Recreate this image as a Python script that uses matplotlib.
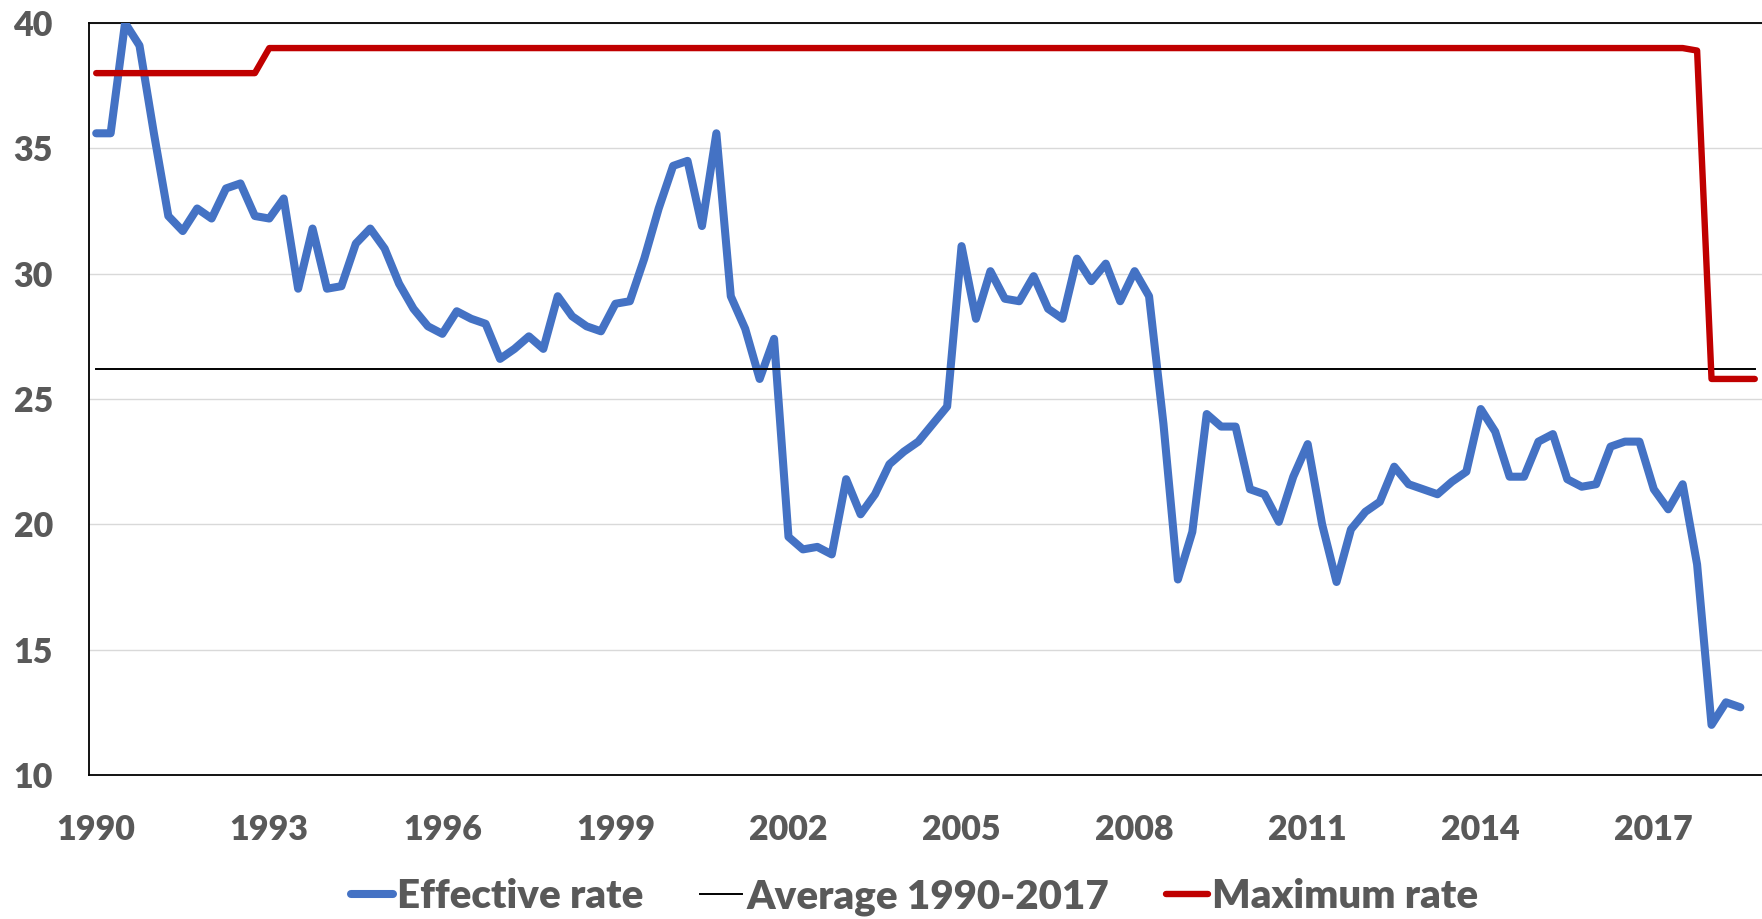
import matplotlib.pyplot as plt

# quarterly categories, 1990Q1 .. 2018Q4
QUARTERS = [f"{year}Q{q}" for year in range(1990, 2019) for q in range(1, 5)]

EFFECTIVE_RATE = [
    35.6, 35.6, 40.0, 39.1, 35.6, 32.3, 31.7, 32.6, 32.2, 33.4, 33.6, 32.3,
    32.2, 33.0, 29.4, 31.8, 29.4, 29.5, 31.2, 31.8, 31.0, 29.6, 28.6, 27.9,
    27.6, 28.5, 28.2, 28.0, 26.6, 27.0, 27.5, 27.0, 29.1, 28.3, 27.9, 27.7,
    28.8, 28.9, 30.6, 32.6, 34.3, 34.5, 31.9, 35.6, 29.1, 27.8, 25.8, 27.4,
    19.5, 19.0, 19.1, 18.8, 21.8, 20.4, 21.2, 22.4, 22.9, 23.3, 24.0, 24.7,
    31.1, 28.2, 30.1, 29.0, 28.9, 29.9, 28.6, 28.2, 30.6, 29.7, 30.4, 28.9,
    30.1, 29.1, 24.0, 17.8, 19.7, 24.4, 23.9, 23.9, 21.4, 21.2, 20.1, 21.9,
    23.2, 20.0, 17.7, 19.8, 20.5, 20.9, 22.3, 21.6, 21.4, 21.2, 21.7, 22.1,
    24.6, 23.7, 21.9, 21.9, 23.3, 23.6, 21.8, 21.5, 21.6, 23.1, 23.3, 23.3,
    21.4, 20.6, 21.6, 18.4, 12.0, 12.9, 12.7,
]
AVERAGE_RATE = 26.2
MAXIMUM_RATE = [38.0] * 12 + [39.0] * 99 + [38.9] + [25.8] * 4

YEAR_TICKS = ["1990", "1993", "1996", "1999", "2002", "2005", "2008", "2011", "2014", "2017"]
Y_TICKS = [10, 15, 20, 25, 30, 35, 40]

BLUE = "#4472C4"
RED = "#C00000"
GREY_TEXT = "#595959"

plt.rcParams["font.family"] = ["Lato", "DejaVu Sans"]
plt.rcParams["font.weight"] = "heavy"

fig = plt.figure(figsize=(17.62, 9.19), dpi=100)
ax = fig.add_axes([89 / 1762, 144 / 919, 1673 / 1762, 752 / 919])

x_eff = list(range(len(EFFECTIVE_RATE)))
x_all = list(range(len(QUARTERS)))

ax.plot(x_eff, EFFECTIVE_RATE, color=BLUE, linewidth=5.8,
        solid_capstyle="round", solid_joinstyle="round", label="Effective rate", zorder=3)
ax.plot(x_all, [AVERAGE_RATE] * len(x_all), color="black", linewidth=1.4,
        label="Average 1990-2017", zorder=4)
ax.plot(x_all, MAXIMUM_RATE, color=RED, linewidth=4.6,
        solid_capstyle="round", solid_joinstyle="round", label="Maximum rate", zorder=5)

ax.set_xlim(-0.5, len(QUARTERS) - 0.5)
ax.set_ylim(10, 40)
ax.set_yticks(Y_TICKS)
ax.set_xticks([QUARTERS.index(f"{y}Q1") for y in YEAR_TICKS])
ax.set_xticklabels(YEAR_TICKS)

ax.tick_params(axis="both", length=0, labelsize=24.5, labelcolor=GREY_TEXT)
ax.tick_params(axis="y", pad=26)
ax.tick_params(axis="x", pad=28)
ax.yaxis.grid(True, color="#D9D9D9", linewidth=1.0)
ax.set_axisbelow(True)

for side in ["left", "bottom", "top"]:
    ax.spines[side].set_color("black")
    ax.spines[side].set_linewidth(1.3)
ax.spines["right"].set_visible(False)

fig.legend(
    loc="center",
    bbox_to_anchor=(0.519, 1 - 897 / 919),
    ncol=3,
    frameon=False,
    fontsize=29,
    labelcolor=GREY_TEXT,
    handlelength=1.05,
    handletextpad=0.1,
    columnspacing=1.4,
)

fig.savefig("out.png", dpi=100)
